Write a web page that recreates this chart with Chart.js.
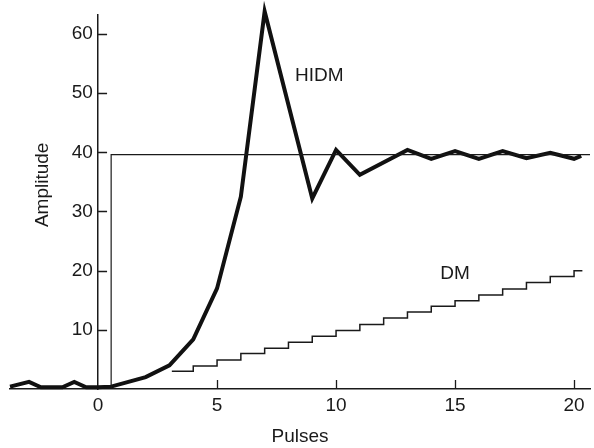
<!DOCTYPE html>
<html>
<head>
<meta charset="utf-8">
<script src="https://cdn.jsdelivr.net/npm/chart.js@4"></script>
<style>
  html, body { margin: 0; padding: 0; background: #fff; }
  #wrap { width: 594px; height: 448px; }
</style>
</head>
<body>
<div id="wrap"><canvas id="c" width="594" height="448"></canvas></div>
<script>
/* HIDM vs DM step response. */
const xTicks = [0, 5, 10, 15, 20];
const yTicks = [10, 20, 30, 40, 50, 60];

// HIDM response (thick line)
const hidmX = [-3.7, -2.9, -2.4, -1.5, -1.0, -0.5, 0, 0.55, 2, 3, 4, 5, 6, 7, 9, 10, 11, 13, 14, 15, 16, 17, 18, 19, 20, 20.3];
const hidmY = [0.4, 1.2, 0.3, 0.3, 1.2, 0.3, 0.3, 0.4, 2.0, 4.0, 8.4, 17.0, 32.5, 63.8, 32.2, 40.4, 36.2, 40.4, 38.9, 40.2, 38.9, 40.2, 39.0, 39.9, 38.9, 39.4];

// DM staircase (value held until next pulse)
const dmX = [3.1, 4, 5, 6, 7, 8, 9, 10, 11, 12, 13, 14, 15, 16, 17, 18, 19, 20, 20.35];
const dmY = [3.0, 3.9, 4.9, 6.0, 6.9, 7.9, 8.9, 9.9, 10.9, 12.0, 13.0, 14.0, 14.9, 15.9, 16.9, 18.0, 19.0, 20.0, 20.0];

// step input
const inputX = [0.55, 0.55, 20.67];
const inputY = [0, 39.6, 39.6];

// curve labels, anchored in data units
const noteText = ["HIDM", "DM"];
const noteX = [9.3, 15.0];
const noteY = [53, 19.4];

const FONT = "'Liberation Sans', Arial, sans-serif";
const INK = "#1a1a1a";

const pts = (xs, ys) => xs.map((x, i) => ({ x, y: ys[i] }));

// tick marks pointing into the plot, y title (the axis sits at x = 0, so the
// library would rotate its own title the wrong way) and curve labels
const extras = {
  id: "extras",
  afterDraw(chart) {
    const { ctx, scales: { x, y }, chartArea } = chart;
    const x0 = x.getPixelForValue(0);
    ctx.save();
    ctx.strokeStyle = INK;
    ctx.lineWidth = 1.3;
    ctx.beginPath();
    yTicks.forEach(v => { const py = Math.round(y.getPixelForValue(v)) + 0.5; ctx.moveTo(x0, py); ctx.lineTo(x0 + 9, py); });
    xTicks.filter(v => v !== 0).forEach(v => { const px = Math.round(x.getPixelForValue(v)) + 0.5; ctx.moveTo(px, chartArea.bottom); ctx.lineTo(px, chartArea.bottom - 9); });
    ctx.stroke();
    ctx.fillStyle = INK;
    ctx.textAlign = "center";
    ctx.textBaseline = "middle";
    ctx.font = "19px " + FONT;
    noteText.forEach((t, i) => ctx.fillText(t, x.getPixelForValue(noteX[i]), y.getPixelForValue(noteY[i])));
    ctx.translate(x0 - 55, y.getPixelForValue(34.5));
    ctx.rotate(-Math.PI / 2);
    ctx.fillText("Amplitude", 0, 0);
    ctx.restore();
  }
};

new Chart(document.getElementById("c").getContext("2d"), {
  type: "line",
  data: {
    datasets: [
      { label: "Input", data: pts(inputX, inputY), borderColor: INK, borderWidth: 1.2, pointRadius: 0, tension: 0 },
      { label: "DM", data: pts(dmX, dmY), borderColor: INK, borderWidth: 1.5, pointRadius: 0, stepped: "before" },
      { label: "HIDM", data: pts(hidmX, hidmY), borderColor: "#111", borderWidth: 4, pointRadius: 0, tension: 0, borderJoinStyle: "miter", clip: false }
    ]
  },
  options: {
    responsive: false,
    animation: false,
    events: [],
    layout: { padding: { left: 10, right: 4, top: 12, bottom: 0 } },
    plugins: { legend: { display: false }, tooltip: { enabled: false } },
    scales: {
      x: {
        type: "linear", min: -3.7, max: 20.67, position: "bottom",
        afterBuildTicks: s => { s.ticks = xTicks.map(v => ({ value: v })); },
        afterFit: s => { s.height = 59; },
        grid: { display: false, drawTicks: false },
        border: { display: true, color: INK, width: 1.5 },
        ticks: { color: INK, font: { family: FONT, size: 19 }, padding: 5, maxRotation: 0 },
        title: { display: true, text: "Pulses", color: INK, font: { family: FONT, size: 19 }, padding: { top: 0, bottom: 0 } }
      },
      y: {
        type: "linear", min: 0, max: 63.3, position: { x: 0 },
        afterBuildTicks: s => { s.ticks = yTicks.map(v => ({ value: v })); },
        grid: { display: false, drawTicks: false },
        border: { display: true, color: INK, width: 1.5 },
        // labels are right-aligned on the axis line; the trailing space keeps a gap
        ticks: { color: INK, font: { family: FONT, size: 19 }, callback: v => v + " " },
        title: { display: false }
      }
    }
  },
  plugins: [extras]
});
</script>
</body>
</html>
